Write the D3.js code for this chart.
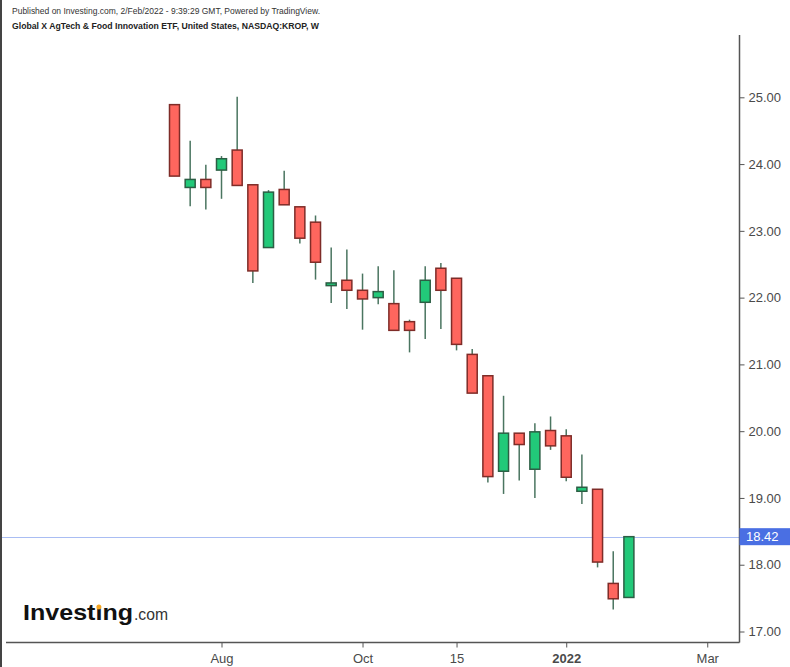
<!DOCTYPE html>
<html><head><meta charset="utf-8">
<script src="https://cdn.jsdelivr.net/npm/d3@7"></script>
<style>html,body{margin:0;padding:0;background:#fff;}svg{display:block;font-family:"Liberation Sans",Arial,sans-serif;}</style>
</head><body>
<svg id="chart" width="790" height="667"></svg>
<script>
// ---- data (weekly bars, week start) ----
const weeks = ["2021-07-12","2021-07-19","2021-07-26","2021-08-02","2021-08-09","2021-08-16","2021-08-23","2021-08-30","2021-09-06","2021-09-13","2021-09-20","2021-09-27","2021-10-04","2021-10-11","2021-10-18","2021-10-25","2021-11-01","2021-11-08","2021-11-15","2021-11-22","2021-11-29","2021-12-06","2021-12-13","2021-12-20","2021-12-27","2022-01-03","2022-01-10","2022-01-17","2022-01-24","2022-01-31"];
const openV  = [24.89,23.65,23.77,23.91,24.21,23.69,22.75,23.62,23.36,23.13,22.18,22.26,22.11,22.00,21.91,21.64,21.93,22.44,22.29,21.15,20.83,19.40,19.97,19.43,20.01,19.93,19.10,19.13,17.72,17.51];
const highV  = [24.89,24.35,23.99,24.12,25.01,23.69,23.61,23.90,23.36,23.23,22.75,22.72,22.36,22.47,22.41,21.67,22.47,22.52,22.29,21.23,20.83,20.53,19.97,20.12,20.22,20.03,19.65,19.13,18.20,18.42];
const lowV   = [23.82,23.37,23.32,23.48,23.68,22.22,22.75,23.39,22.81,22.27,21.92,21.83,21.52,21.90,21.51,21.18,21.38,21.53,21.21,20.57,19.23,19.06,19.26,19.00,19.72,19.25,18.91,17.96,17.33,17.51];
const closeV = [23.82,23.77,23.65,24.08,23.68,22.40,23.58,23.39,22.89,22.53,22.22,22.11,21.98,22.09,21.51,21.51,22.26,22.11,21.30,20.57,19.32,19.97,19.80,19.99,19.78,19.31,19.16,18.04,17.49,18.42];
const yTicks = [17,18,19,20,21,22,23,24,25];
const xTickDates  = ["2021-08-02","2021-10-04","2021-11-15","2022-01-03","2022-03-07"];
const xTickLabels = ["Aug","Oct","15","2022","Mar"];
const lastPrice = 18.42;
const headerLine1 = "Published on Investing.com, 2/Feb/2022 - 9:39:29 GMT, Powered by TradingView.";
const headerLine2 = "Global X AgTech & Food Innovation ETF, United States, NASDAQ:KROP, W";

const parse = d3.utcParse("%Y-%m-%d");
const bars = weeks.map((w,i)=>({d:parse(w),o:openV[i],h:highV[i],l:lowV[i],c:closeV[i]}));

const svg = d3.select("#chart");
svg.append("rect").attr("width",790).attr("height",667).attr("fill","#fff");

const axisX = 739.5, axisY = 642.5;
const x = d3.scaleUtc().domain([parse("2021-07-12"), parse("2022-01-31")]).range([174.5, 628.9]);
const y = d3.scaleLinear().domain([17,25]).range([631.5,97.3]);

// left border
svg.append("line").attr("x1",1).attr("x2",1).attr("y1",0).attr("y2",667).attr("stroke","#444").attr("stroke-width",2);

// header
svg.append("text").attr("x",12).attr("y",14).attr("font-size",9).attr("fill","#333")
  .attr("textLength",308).attr("lengthAdjust","spacingAndGlyphs").text(headerLine1);
svg.append("text").attr("x",12).attr("y",29).attr("font-size",9).attr("font-weight","bold").attr("fill","#222")
  .attr("textLength",307).attr("lengthAdjust","spacingAndGlyphs").text(headerLine2);

// last price line
svg.append("line").attr("x1",2).attr("x2",axisX).attr("y1",Math.round(y(lastPrice))+0.5).attr("y2",Math.round(y(lastPrice))+0.5)
  .attr("stroke","#a9bdf3").attr("stroke-width",1);

// candles
const g = svg.append("g");
const up = d=>d.c>=d.o;
g.selectAll("line.wick").data(bars).join("line").attr("class","wick")
  .attr("x1",d=>x(d.d)).attr("x2",d=>x(d.d)).attr("y1",d=>y(d.h)).attr("y2",d=>y(d.l))
  .attr("stroke","#4a7560").attr("stroke-width",1.5);
g.selectAll("rect.body").data(bars).join("rect").attr("class","body")
  .attr("x",d=>x(d.d)-5).attr("width",10)
  .attr("y",d=>y(Math.max(d.o,d.c)))
  .attr("height",d=>Math.max(2,y(Math.min(d.o,d.c))-y(Math.max(d.o,d.c))))
  .attr("fill",d=>up(d)?"#22c979":"#fe665e")
  .attr("stroke",d=>up(d)?"#2c5e44":"#7e2c28").attr("stroke-width",1.5);

// right axis
const yAxis = d3.axisRight(y).tickValues(yTicks).tickSize(5).tickPadding(4).tickFormat(d3.format(".2f"));
const ya = svg.append("g").attr("transform",`translate(${axisX},0)`).call(yAxis);
ya.select(".domain").remove();
ya.selectAll("line").attr("stroke","#555");
ya.selectAll("text").attr("font-size",13).attr("fill","#4a4a4a").attr("font-family","Liberation Sans, Arial, sans-serif");
svg.append("line").attr("x1",axisX).attr("x2",axisX).attr("y1",35).attr("y2",axisY).attr("stroke","#555").attr("stroke-width",1.5);

// bottom axis
const xAxis = d3.axisBottom(x).tickValues(xTickDates.map(parse)).tickSize(5).tickPadding(6)
  .tickFormat((d,i)=>xTickLabels[i]);
const xa = svg.append("g").attr("transform",`translate(0,${axisY})`).call(xAxis);
xa.select(".domain").remove();
xa.selectAll("line").attr("stroke","#555");
xa.selectAll("text").attr("font-size",13).attr("fill","#4a4a4a").attr("font-family","Liberation Sans, Arial, sans-serif")
  .attr("font-weight",(d,i)=>xTickLabels[i]==="2022"?"bold":"normal");
svg.append("line").attr("x1",6).attr("x2",axisX).attr("y1",axisY).attr("y2",axisY).attr("stroke","#555").attr("stroke-width",1.5);

// last price label
const ly = y(lastPrice);
svg.append("rect").attr("x",axisX).attr("y",ly-8.5).attr("width",790-axisX).attr("height",17).attr("fill","#4a6fe3");
svg.append("text").attr("x",746).attr("y",ly+4.5).attr("font-size",13).attr("fill","#fff").text(d3.format(".2f")(lastPrice));

// logo
const inv = svg.append("text").attr("x",23).attr("y",620).attr("fill","#111")
  .attr("font-size",22).attr("font-weight","bold")
  .attr("textLength",110).attr("lengthAdjust","spacingAndGlyphs").text("Invest\u0131ng");
svg.append("text").attr("x",134).attr("y",620).attr("fill","#333").attr("font-size",16)
  .attr("textLength",34).attr("lengthAdjust","spacingAndGlyphs").text(".com");
try {
  const ext = inv.node().getExtentOfChar(6);
  svg.append("circle").attr("cx",ext.x+ext.width/2).attr("cy",607).attr("r",2.5).attr("fill","#f5a623");
} catch(e) {}
</script>
</body></html>
